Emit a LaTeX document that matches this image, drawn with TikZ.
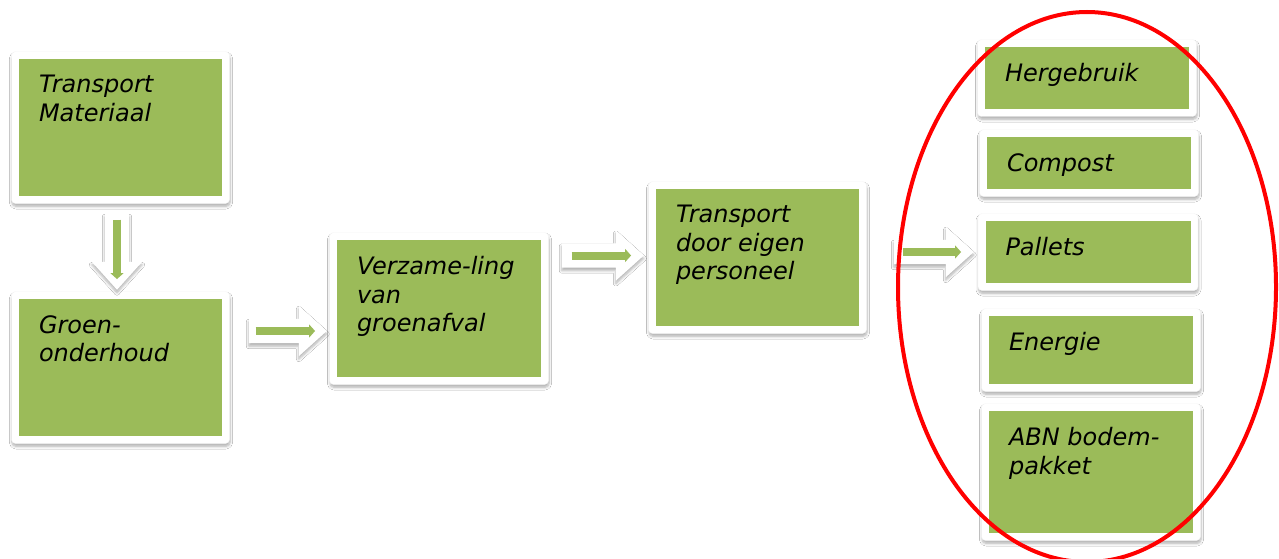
\documentclass[tikz,border=0pt]{standalone}
\usepackage{fontspec}
\setmainfont{DejaVu Sans}
\usetikzlibrary{shapes.arrows,shapes.geometric,shadows.blur,arrows.meta}
\definecolor{olive}{HTML}{9BBB59}
\definecolor{ringred}{HTML}{FF0000}
\tikzset{
  frame/.style={draw=black!4, fill=white, rounded corners=4pt, inner sep=0pt, outer sep=0pt,
    blur shadow={shadow blur steps=6, shadow xshift=0.5pt, shadow yshift=-3pt, shadow opacity=30, shadow blur radius=2.5pt}},
  gfill/.style={fill=olive, draw=none, inner sep=0pt, outer sep=0pt},
  lbl/.style={anchor=north west, inner sep=0pt, outer sep=0pt, align=left,
    font=\fontsize{24}{28.5}\selectfont\itshape},
  blockarrow/.style={single arrow, fill=white, draw=none, inner xsep=0pt, inner ysep=12pt,
    minimum width=0pt, single arrow head extend=13pt, single arrow tip angle=84,
    blur shadow={shadow blur steps=6, shadow xshift=0pt, shadow yshift=-3pt, shadow opacity=30, shadow blur radius=2.5pt}},
  garrow/.style={draw=olive, line width=8pt, -{Triangle[width=13pt,length=6pt]},
    shorten <=8pt, shorten >=12pt},
  ring/.style={ellipse, draw=ringred, line width=4pt, inner sep=0pt}
}
\newcommand\greenbox[6]{%
  \node[frame, minimum width=#4pt+15pt, minimum height=#5pt+15pt] (#1f) at (#2,#3) {};
  \node[gfill, minimum width=#4pt, minimum height=#5pt] (#1) at (#2,#3) {};
  \node[lbl] (#1t) at ([xshift=20pt,yshift=-16.5pt]#1.north west) {#6};}
\begin{document}
\begin{tikzpicture}[x=1pt,y=-1pt]
\useasboundingbox[fill=white] (0,0) rectangle (1279,559);
\greenbox{b1}{120.5}{127.5}{203}{137}{Transport\\Materiaal}
\greenbox{b2}{120.5}{367.5}{203}{137}{Groen-\\onderhoud}
\greenbox{b3}{439}{308.5}{204}{137}{Verzame-ling\\van\\groenafval}
\greenbox{b4}{757.5}{257.5}{203}{137}{Transport\\door eigen\\personeel}
\greenbox{r1}{1087}{78}{204}{62}{Hergebruik}
\greenbox{r2}{1089}{163}{204}{52}{Compost}
\greenbox{r3}{1088}{252}{205}{62}{Pallets}
\greenbox{r4}{1091}{350}{204}{68}{Energie}
\greenbox{r5}{1091}{472}{204}{122}{ABN bodem-\\pakket}
% block arrows
\node[blockarrow, minimum height=76pt, rotate=-90] (a0) at (117,245) {};
\node[blockarrow, minimum height=78pt] (a1) at (281,331) {};
\node[blockarrow, minimum height=82pt] (a2) at (596,255.5) {};
\node[blockarrow, minimum height=80pt] (a3) at (927,252) {};
\draw[garrow, shorten <=6pt, shorten >=11pt] (a0.tail) -- (a0.tip);
\draw[garrow, shorten <=7pt] (a1.tail) -- (a1.tip);
\draw[garrow, shorten <=10pt, shorten >=13pt] (a2.tail) -- (a2.tip);
\draw[garrow, shorten <=9pt, shorten >=13pt] (a3.tail) -- (a3.tip);
% ring
\node[ring, minimum width=378pt, minimum height=550pt] (ring) at (1087,287) {};
\end{tikzpicture}
\end{document}
